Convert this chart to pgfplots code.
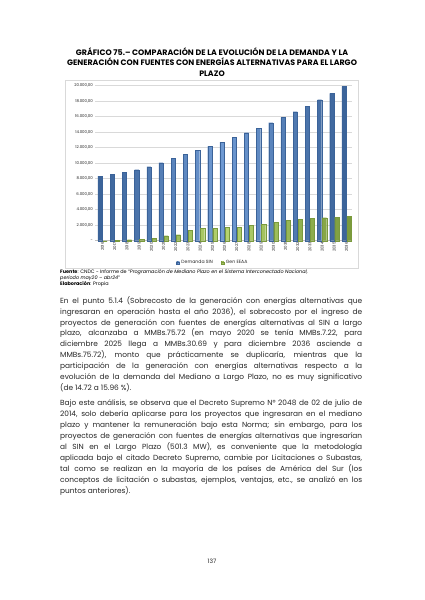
\documentclass[border=0pt]{standalone}
\usepackage{pgfplots}
\pgfplotsset{compat=1.18}
\usepackage{fontspec}
\setmainfont{Poppins}
\definecolor{dblue}{HTML}{3B6399}
\definecolor{lblue}{HTML}{6F9AD3}
\definecolor{dgreen}{HTML}{7A9A3C}
\definecolor{lgreen}{HTML}{B5D36E}
\definecolor{txt}{HTML}{262626}
\begin{document}
\begin{tikzpicture}
\path[fill=white] (0pt,0pt) rectangle (424pt,-600pt);
% title
\node[align=center, font=\fontsize{7.9}{10.3}\selectfont\bfseries, text=black] at (212pt,-62pt)
{GRÁFICO 75.– COMPARACIÓN DE LA EVOLUCIÓN DE LA DEMANDA Y LA\\
GENERACIÓN CON FUENTES CON ENERGÍAS ALTERNATIVAS PARA EL LARGO\\
PLAZO};
% chart frame
\draw[gray!30, line width=0.6pt] (65pt,-80pt) rectangle (358pt,-268pt);
\begin{axis}[
  at={(95pt,-240.7pt)}, anchor=south west,
  scale only axis, width=257pt, height=155pt,
  ymin=0, ymax=20000, xmin=-0.62, xmax=20.45,
  scaled y ticks=false,
  ybar=0.8pt, bar width=4.2pt,
  ytick={0,2000,...,20000},
  yticklabels={{-},{2.000,00},{4.000,00},{6.000,00},{8.000,00},{10.000,00},{12.000,00},{14.000,00},{16.000,00},{18.000,00},{20.000,00}},
  xtick={0,...,20},
  xticklabels={2016,2017,2018,2019,2020,2021,2022,2023,2024,2025,2026,2027,2028,2029,2030,2031,2032,2033,2034,2035,2036},
  ymajorgrids, grid style={gray!30, line width=0.5pt},
  axis x line*=bottom, axis y line*=left,
  y axis line style={draw=none},
  x axis line style={gray!50, line width=0.5pt},
  major tick length=0pt,
  tick label style={font=\fontsize{3.9}{4.4}\selectfont, text=txt},
  x tick label style={rotate=90, anchor=east, inner sep=1.5pt},
  y tick label style={inner sep=2pt},
  legend style={at={(0.459,-0.144)}, anchor=center, legend columns=2, draw=none,
     font=\fontsize{4.6}{5.2}\selectfont, text=txt, fill=none,
     /tikz/every even column/.append style={column sep=6pt}},
  legend image code/.code={\fill[#1] (0pt,-1.4pt) rectangle (2.8pt,1.4pt);},
  clip=false,
]
\addplot[draw=dblue, line width=0.2pt, left color=dblue, right color=dblue, middle color=lblue] coordinates {
(0,8340) (1,8600) (2,8860) (3,9160) (4,9550) (5,10060) (6,10620) (7,11140) (8,11700) (9,12170)
(10,12730) (11,13330) (12,13940) (13,14540) (14,15230) (15,15910) (16,16650) (17,17380) (18,18190) (19,19010) (20,19910)};
\addlegendentry{Demanda SIN}
\addplot[draw=dgreen, line width=0.2pt, left color=dgreen, right color=dgreen, middle color=lgreen] coordinates {
(0,0) (1,20) (2,130) (3,200) (4,300) (5,650) (6,770) (7,1330) (8,1630) (9,1630)
(10,1760) (11,1760) (12,2020) (13,2100) (14,2370) (15,2670) (16,2750) (17,2880) (18,2970) (19,3050) (20,3180)};
\addlegendentry{Gen EEAA}
\end{axis}
% source
\node[anchor=north west, align=left, font=\fontsize{4.9}{5.8}\selectfont, text=black, inner sep=0pt] at (60pt,-269.5pt)
{\textbf{Fuente}: CNDC - Informe de ``\textit{Programación de Mediano Plazo en el Sistema Interconectado Nacional,}\\
\textit{periodo may20 – abr24}''\\
\textbf{Elaboración}: Propia};
% paragraph 1
\node[anchor=north west, text width=302pt, align=justify, font=\fontsize{7.4}{10.95}\selectfont, text=txt, inner sep=0pt] at (60pt,-296pt)
{En el punto 5.1.4 (Sobrecosto de la generación con energías alternativas que\linebreak
ingresaran en operación hasta el año 2036), el sobrecosto por el ingreso de\linebreak
proyectos de generación con fuentes de energías alternativas al SIN a largo\linebreak
plazo, alcanzaba a MMBs.75.72 (en mayo 2020 se tenía MMBs.7.22, para\linebreak
diciembre 2025 llega a MMBs.30.69 y para diciembre 2036 asciende a\linebreak
MMBs.75.72), monto que prácticamente se duplicaría, mientras que la\linebreak
participación de la generación con energías alternativas respecto a la\linebreak
evolución de la demanda del Mediano a Largo Plazo, no es muy significativo\linebreak
(de 14.72 a 15.96 \%).};
% paragraph 2
\node[anchor=north west, text width=302pt, align=justify, font=\fontsize{7.4}{10.95}\selectfont, text=txt, inner sep=0pt] at (60pt,-400pt)
{Bajo este análisis, se observa que el Decreto Supremo N° 2048 de 02 de julio de\linebreak
2014, solo debería aplicarse para los proyectos que ingresaran en el mediano\linebreak
plazo y mantener la remuneración bajo esta Norma; sin embargo, para los\linebreak
proyectos de generación con fuentes de energías alternativas que ingresarían\linebreak
al SIN en el Largo Plazo (501.3 MW), es conveniente que la metodología\linebreak
aplicada bajo el citado Decreto Supremo, cambie por Licitaciones o Subastas,\linebreak
tal como se realizan en la mayoría de los países de América del Sur (los\linebreak
conceptos de licitación o subastas, ejemplos, ventajas, etc., se analizó en los\linebreak
puntos anteriores).};
% page number
\node[font=\fontsize{6}{7}\selectfont, text=txt] at (212pt,-561pt) {137};
\end{tikzpicture}
\end{document}
